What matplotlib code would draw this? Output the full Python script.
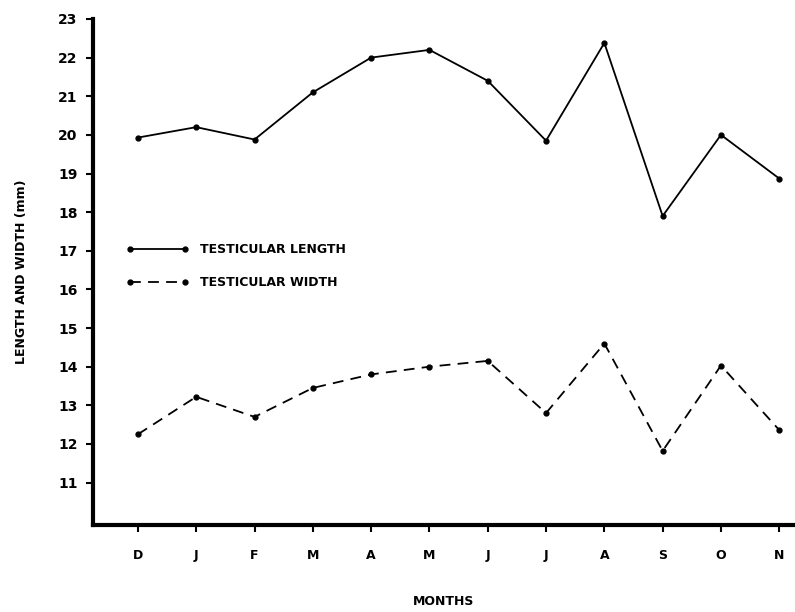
import matplotlib
matplotlib.use("Agg")
import matplotlib.pyplot as plt

months = ["D", "J", "F", "M", "A", "M", "J", "J", "A", "S", "O", "N"]
length_mm = [19.93, 20.2, 19.88, 21.1, 22.0, 22.2, 21.4, 19.85, 22.38, 17.9, 20.0, 18.87]
width_mm = [12.25, 13.22, 12.7, 13.45, 13.8, 14.0, 14.15, 12.8, 14.6, 11.82, 14.03, 12.36]
yticks = list(range(11, 24))

plt.rcParams['font.family'] = ['DejaVu Sans']
plt.rcParams['font.weight'] = 'bold'

fig = plt.figure(figsize=(7.95, 6.12), dpi=100)
ax = fig.add_axes([0.117, 0.142, 0.883, 0.827])

x = list(range(len(months)))
ax.plot(x, length_mm, color='black', lw=1.3, marker='o', ms=3.5,
        label='TESTICULAR LENGTH')
ax.plot(x, width_mm, color='black', lw=1.3, marker='o', ms=3.5,
        dashes=(6, 4), label='TESTICULAR WIDTH')

ax.set_xlim(-0.77, 11.27)
ax.set_ylim(9.9, 23)
ax.set_xticks(x)
ax.set_xticklabels(months, fontsize=9, fontweight='bold')
ax.set_yticks(yticks)
ax.set_yticklabels([str(t) for t in yticks], fontsize=10, fontweight='bold')

for s in ['top', 'right']:
    ax.spines[s].set_visible(False)
for s in ['left', 'bottom']:
    ax.spines[s].set_linewidth(3)
ax.tick_params(axis='y', direction='out', length=5, width=1.5, pad=6)
ax.tick_params(axis='x', direction='out', length=5, width=1.5, pad=12)

ax.set_ylabel('LENGTH AND WIDTH (mm)', fontsize=9, fontweight='bold', labelpad=22)
fig.text(0.558, 0.006, 'MONTHS', ha='center', va='bottom', fontsize=9, fontweight='bold')

leg = ax.legend(loc='center left', bbox_to_anchor=(0.048, 0.511), frameon=False,
                numpoints=2, handlelength=5.0, handletextpad=0.9,
                labelspacing=1.6, borderpad=0, borderaxespad=0,
                prop={'size': 9, 'weight': 'bold'})

fig.savefig('out.png', dpi=100)
